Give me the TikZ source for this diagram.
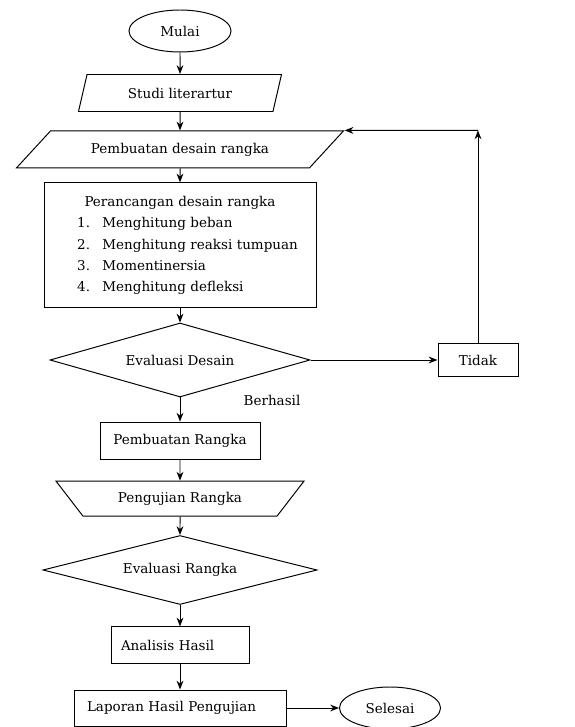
\documentclass[tikz,border=0pt]{standalone}
\usepackage{fontspec}
\setmainfont{DejaVu Serif}
\usepackage{tikz}
\usetikzlibrary{shapes.geometric, arrows.meta, positioning}
\tikzstyle{startstop} = [ellipse, draw, minimum width=2.55cm, minimum height=1.05cm, inner sep=0pt]
\tikzstyle{io} = [trapezium, trapezium stretches body, draw, minimum height=0.925cm, inner sep=2pt]
\tikzstyle{process} = [rectangle, draw, minimum height=0.925cm, text centered]
\tikzstyle{decision} = [diamond, draw, inner sep=0pt]
\tikzstyle{arrow} = [-{Stealth[length=2.2mm,width=1.7mm]}]

\begin{document}
\begin{tikzpicture}[line width=0.7pt, every node/.style={font=\fontsize{9.6pt}{15pt}\selectfont}]
\useasboundingbox (0,0) rectangle (14.375,18.175);

% Awal
\node (mulai) [startstop] at (4.5,17.4) {Mulai};
\node (studi) [io, trapezium left angle=62, trapezium right angle=118, minimum width=5.075cm] at (4.5,15.85) {Studi literartur};
\node (desain) [io, trapezium left angle=29, trapezium right angle=151, minimum width=8.175cm] at (4.5,14.44) {Pembuatan desain rangka};

% Perancangan
\node (rancang) [process, minimum width=6.8cm, minimum height=3.125cm, text width=6.5cm, align=left] at (4.5,12.04) {\makebox[6.5cm]{Perancangan desain rangka}\\
\hspace*{0.68cm}\makebox[0.63cm][l]{1.}Menghitung beban\\
\hspace*{0.68cm}\makebox[0.63cm][l]{2.}Menghitung reaksi tumpuan\\
\hspace*{0.68cm}\makebox[0.63cm][l]{3.}Momentinersia\\
\hspace*{0.68cm}\makebox[0.63cm][l]{4.}Menghitung defleksi};

% Evaluasi desain
\node (evaldesain) [decision, aspect=3.5, minimum width=6.5cm, minimum height=1.85cm] at (4.5,9.175) {Evaluasi Desain};
\node (tidak) [process, minimum width=2cm, minimum height=0.825cm] at (11.95,9.175) {Tidak};
\coordinate (balik) at (tidak.north |- desain.north);
\node (berhasil) at (6.8,8.175) {Berhasil};

% Pembuatan dan pengujian
\node (buatrangka) [process, minimum width=4cm] at (4.5,7.16) {Pembuatan Rangka};
\node (uji) [io, trapezium left angle=35, trapezium right angle=35, shape border rotate=180, minimum width=6.2cm, minimum height=0.875cm] at (4.5,5.71) {Pengujian Rangka};
\node (evalrangka) [decision, aspect=4, minimum width=6.85cm, minimum height=1.725cm] at (4.5,3.925) {Evaluasi Rangka};
\node (analisis) [process, inner xsep=0.25cm, text width=2.95cm, align=left] at (4.5,2.04) {Analisis Hasil};
\node (laporan) [process, inner xsep=0.325cm, text width=4.65cm, align=left, minimum height=0.9cm] at (4.5,0.475) {Laporan Hasil Pengujian};
\node (selesai) [startstop, minimum width=2.525cm] at (9.75,0.475) {Selesai};

% Panah
\draw [arrow] (mulai) -- (studi);
\draw [arrow] (studi) -- (desain);
\draw [arrow] (desain) -- (rancang);
\draw [arrow] (rancang) -- (evaldesain);
\draw [arrow] (evaldesain) -- (tidak);
\draw [arrow] (tidak) -- (balik);
\draw [arrow] (balik) -- (desain.top right corner);
\draw [arrow] (evaldesain) -- (buatrangka);
\draw [arrow] (buatrangka) -- (uji);
\draw [arrow] (uji) -- (evalrangka);
\draw [arrow] (evalrangka) -- (analisis);
\draw [arrow] (analisis) -- (laporan);
\draw [arrow] (laporan) -- (selesai);

\end{tikzpicture}
\end{document}
